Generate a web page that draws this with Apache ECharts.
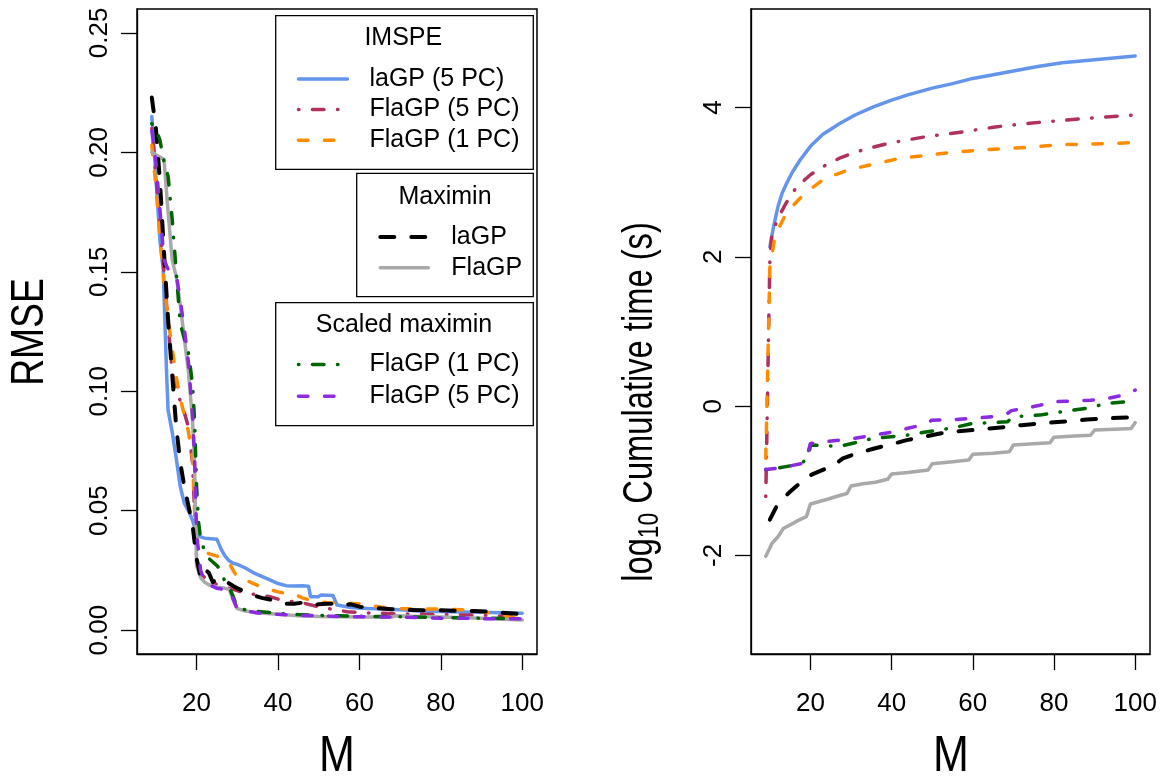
<!DOCTYPE html>
<html><head><meta charset="utf-8">
<script src="https://cdn.jsdelivr.net/npm/echarts@6/dist/echarts.min.js"></script>
<style>html,body{margin:0;padding:0;background:#fff}#c{width:1162px;height:778px}</style>
</head><body><div id="c"></div>
<script>
// ---------------- data ----------------
const M_TICKS = [20, 40, 60, 80, 100];
const RMSE_TICKS = [0, 0.05, 0.10, 0.15, 0.20, 0.25];
const TIME_TICKS = [-2, 0, 2, 4];

// Left panel: RMSE vs M
const rmse_imspe_laGP5 = [[9,0.215],[10,0.19],[11,0.163],[11.8,0.151],[12.2,0.13],[12.6,0.109],[13,0.092],[14,0.083],[15,0.072],[16,0.06],[17,0.053],[18,0.05],[19,0.046],[19.7,0.042],[20,0.040],[21,0.039],[22,0.0385],[25,0.038],[26,0.034],[27,0.031],[28,0.029],[29,0.028],[30,0.0275],[32,0.026],[34,0.024],[36,0.0225],[38,0.021],[40,0.0195],[42,0.0186],[44,0.0185],[46,0.0186],[47.5,0.0184],[48,0.014],[50,0.014],[50.5,0.0147],[53.5,0.0145],[54.5,0.0105],[58,0.0095],[62,0.009],[66,0.0088],[70,0.0085],[75,0.008],[80,0.0078],[85,0.0076],[90,0.0075],[95,0.0073],[100,0.0071]];
const rmse_imspe_FlaGP5 = [[9,0.21],[10,0.19],[11,0.17],[12,0.15],[13,0.128],[14,0.108],[15,0.1],[16,0.096],[17,0.091],[18,0.085],[19,0.07],[19.5,0.05],[20,0.03],[21,0.0235],[22,0.022],[23,0.0215],[25,0.019],[27,0.018],[28,0.0175],[30,0.0165],[32,0.0155],[35,0.0148],[38,0.014],[41,0.0125],[44,0.0118],[47,0.011],[50,0.0098],[54,0.0085],[57,0.0077],[62,0.0072],[70,0.0068],[80,0.0065],[90,0.0062],[100,0.0055]];
const rmse_imspe_FlaGP1 = [[9,0.203],[10,0.186],[11,0.165],[12,0.146],[13,0.13],[14,0.118],[15,0.106],[16,0.097],[17,0.09],[18,0.083],[19,0.072],[19.5,0.05],[20,0.038],[21,0.035],[22,0.033],[23,0.032],[25,0.031],[27,0.029],[28,0.028],[29,0.025],[30,0.022],[32,0.021],[34,0.0195],[36,0.018],[38,0.017],[40,0.016],[42,0.0153],[44,0.015],[46,0.0135],[48,0.0125],[50,0.012],[52,0.0115],[56,0.0112],[60,0.011],[62,0.0105],[66,0.0095],[70,0.009],[75,0.0088],[80,0.0088],[85,0.0085],[88,0.0083],[90,0.0078],[94,0.0065],[97,0.0055],[100,0.005]];
const rmse_maximin_laGP = [[9,0.223],[10,0.21],[11,0.188],[12,0.158],[13,0.13],[14,0.107],[15,0.085],[16,0.07],[17,0.06],[18,0.052],[19,0.044],[20,0.03],[21,0.022],[22,0.0255],[23,0.024],[24,0.02],[25,0.0215],[26,0.0215],[27,0.021],[28,0.0195],[29,0.0185],[30,0.0175],[32,0.016],[34,0.0145],[36,0.0135],[38,0.0128],[40,0.012],[42,0.011],[44,0.011],[46,0.0115],[48,0.0105],[50,0.0108],[52,0.011],[54,0.011],[56,0.0105],[58,0.0108],[60,0.0098],[64,0.0092],[68,0.0087],[72,0.0084],[76,0.0083],[80,0.0083],[84,0.0081],[88,0.008],[92,0.0077],[96,0.0072],[100,0.0067]];
const rmse_maximin_FlaGP = [[9,0.2],[10,0.199],[11,0.198],[12,0.197],[13,0.175],[14,0.155],[15,0.148],[16,0.136],[17,0.122],[18,0.108],[19,0.088],[19.5,0.07],[20,0.027],[21,0.022],[22,0.02],[23,0.019],[25,0.018],[27,0.0175],[28,0.017],[29,0.0125],[30,0.009],[32,0.008],[35,0.0073],[40,0.0066],[45,0.006],[50,0.0057],[60,0.0055],[68,0.0055],[69,0.006],[72,0.0058],[80,0.0055],[90,0.005],[100,0.0042]];
const rmse_scaled_FlaGP1 = [[9,0.212],[10,0.21],[11,0.205],[12,0.196],[13,0.19],[14,0.172],[15,0.15],[16,0.128],[17,0.122],[18,0.116],[19,0.103],[19.5,0.088],[20,0.06],[20.5,0.045],[21,0.038],[22,0.033],[23,0.03],[25,0.027],[26,0.025],[27,0.02],[28,0.018],[29,0.014],[30,0.0095],[32,0.0085],[35,0.0078],[40,0.007],[45,0.0065],[50,0.0062],[55,0.006],[60,0.0058],[70,0.0056],[80,0.0052],[90,0.005],[100,0.0048]];
const rmse_scaled_FlaGP5 = [[9,0.209],[10,0.196],[11,0.176],[12,0.155],[13,0.151],[14,0.15],[15,0.149],[16,0.138],[17,0.126],[18,0.112],[19,0.09],[19.5,0.072],[20,0.04],[20.5,0.033],[21,0.025],[22,0.02],[23,0.019],[25,0.0175],[27,0.017],[28,0.0168],[29,0.013],[30,0.0088],[32,0.008],[35,0.0072],[40,0.0066],[45,0.0062],[50,0.006],[55,0.0057],[60,0.0056],[65,0.0055],[70,0.0055],[75,0.0052],[80,0.005],[85,0.005],[90,0.0048],[95,0.0048],[100,0.0047]];

// Right panel: log10 cumulative time vs M
const time_imspe_laGP5 = [[10,2.13],[10.9,2.4],[12,2.67],[13,2.85],[14,2.97],[15.5,3.13],[17.5,3.3],[20,3.48],[23,3.64],[27,3.78],[31,3.9],[35.5,4.01],[40,4.1],[44,4.17],[50,4.26],[55,4.32],[60,4.39],[65,4.44],[70,4.49],[76,4.55],[82,4.6],[88,4.63],[94,4.66],[100,4.69]];
const time_imspe_FlaGP5 = [[9,-1.21],[10,1.95],[10.5,2.3],[12,2.52],[14,2.72],[16.5,2.93],[20,3.1],[23.5,3.22],[27.5,3.33],[31.5,3.41],[35.5,3.47],[40,3.53],[48.5,3.61],[57,3.67],[65.5,3.74],[74,3.79],[82.5,3.83],[91.5,3.87],[100,3.9]];
const time_imspe_FlaGP1 = [[9,-0.7],[10,1.85],[11.3,2.29],[14.2,2.6],[18.6,2.85],[23.5,3.05],[29.7,3.17],[36.3,3.25],[42,3.32],[48.6,3.36],[55,3.4],[61.7,3.43],[67.4,3.45],[74.8,3.47],[80.7,3.5],[88,3.51],[94,3.52],[100,3.53]];
const time_maximin_laGP = [[10,-1.52],[11.6,-1.35],[13,-1.25],[14.9,-1.15],[17,-1.05],[19,-0.95],[21,-0.9],[23.9,-0.835],[26,-0.78],[28,-0.7],[31,-0.64],[35.5,-0.57],[40,-0.51],[43.7,-0.455],[48,-0.41],[51.9,-0.366],[56,-0.34],[60,-0.32],[64,-0.3],[68.3,-0.277],[72,-0.255],[76.5,-0.23],[80,-0.215],[84.7,-0.2],[88,-0.18],[92.8,-0.165],[96,-0.155],[100,-0.15]];
const time_maximin_FlaGP = [[9,-2.01],[10,-1.9],[10.5,-1.84],[12,-1.75],[13.3,-1.64],[15,-1.59],[17,-1.53],[19,-1.48],[20,-1.31],[24,-1.25],[27,-1.2],[29,-1.17],[30,-1.07],[33,-1.04],[36,-1.02],[39,-0.98],[40,-0.91],[44,-0.89],[49,-0.855],[50,-0.77],[55,-0.745],[59,-0.72],[60,-0.645],[65,-0.63],[69,-0.61],[70,-0.52],[75,-0.505],[79,-0.49],[80,-0.415],[85,-0.4],[89,-0.39],[90,-0.32],[95,-0.31],[99,-0.3],[100,-0.22]];
const time_scaled_FlaGP1 = [[9,-0.85],[12,-0.83],[15,-0.8],[17.8,-0.77],[19.5,-0.68],[20,-0.52],[23,-0.53],[27.3,-0.536],[31,-0.49],[35.5,-0.43],[40,-0.41],[43.7,-0.39],[48,-0.35],[51.9,-0.32],[56,-0.28],[60,-0.23],[65,-0.22],[68.5,-0.21],[70,-0.14],[76.5,-0.12],[80,-0.09],[84.7,-0.054],[89,-0.02],[92.8,0.036],[98,0.058],[100,0.06]];
const time_scaled_FlaGP5 = [[9,-0.85],[12,-0.83],[15,-0.8],[17.8,-0.77],[19,-0.72],[19.5,-0.6],[20,-0.5],[23,-0.48],[27,-0.455],[31,-0.43],[35.5,-0.39],[40,-0.35],[43.7,-0.3],[47,-0.26],[48.6,-0.23],[49.8,-0.19],[55,-0.18],[60,-0.165],[65,-0.14],[68.5,-0.1],[69.5,-0.06],[73,-0.03],[76.5,0.013],[79.8,0.058],[85,0.07],[88.9,0.08],[93,0.1],[97,0.147],[100,0.214]];

// ---------------- styles ----------------
const FONT = '"Liberation Sans", Arial, Helvetica, sans-serif';
const DASHED = [9.5, 16.5];
const DOTDASH = [0.5, 13.5, 11.5, 13.5];
const LONGDASH = [14, 17];
const defs = [
  {name: 'IMSPE|laGP (5 PC)',    color: '#6495ED', type: 'solid',  width: 3.5, L: rmse_imspe_laGP5,   R: time_imspe_laGP5},
  {name: 'IMSPE|FlaGP (5 PC)',   color: '#B03060', type: DOTDASH,  width: 3.5, L: rmse_imspe_FlaGP5,  R: time_imspe_FlaGP5},
  {name: 'IMSPE|FlaGP (1 PC)',   color: '#FF8C00', type: DASHED,   width: 3.5, L: rmse_imspe_FlaGP1,  R: time_imspe_FlaGP1},
  {name: 'Maximin|FlaGP',        color: '#A9A9A9', type: 'solid',  width: 3.5, L: rmse_maximin_FlaGP, R: time_maximin_FlaGP},
  {name: 'Maximin|laGP',         color: '#000000', type: LONGDASH, width: 4,   L: rmse_maximin_laGP,  R: time_maximin_laGP},
  {name: 'Scaled|FlaGP (1 PC)',  color: '#006400', type: DOTDASH,  width: 3.5, L: rmse_scaled_FlaGP1, R: time_scaled_FlaGP1},
  {name: 'Scaled|FlaGP (5 PC)',  color: '#8A2BE2', type: DASHED,   width: 3.5, L: rmse_scaled_FlaGP5, R: time_scaled_FlaGP5}
];
const styleOf = {};
defs.forEach(d => styleOf[d.name] = {color: d.color, type: d.type, width: d.width, cap: 'round'});

const X_MIN = 5.36, X_MAX = 103.64;
const Y_MIN = [-0.01, -3.32], Y_MAX = [0.26, 5.32];
const TICK_LEN = 16;
const GRIDS = [
  {left: 137, top: 9, width: 400, height: 645},
  {left: 751, top: 9, width: 399, height: 645}
];
// thin strips just below each panel, carrying the x-axis tick marks
const STRIPS = GRIDS.map(g => ({left: g.left, top: g.top + g.height, width: g.width, height: TICK_LEN}));

const series = [];
defs.forEach(d => {
  [['L', 0], ['R', 1]].forEach(([k, i]) => {
    series.push({
      type: 'line', name: d.name, xAxisIndex: i, yAxisIndex: i,
      data: d[k], symbol: 'none', showSymbol: false, animation: false, silent: true,
      lineStyle: {color: d.color, type: d.type, width: d.width, cap: 'round', join: 'round'},
      itemStyle: {color: d.color}
    });
  });
});

const AXLINE = {show: true, onZero: false, lineStyle: {color: '#000', width: 1.3}};
function mkXAxis(gi) {
  return {
    type: 'value', gridIndex: gi, min: X_MIN, max: X_MAX, position: 'bottom',
    axisLine: AXLINE, splitLine: {show: false},
    axisTick: {show: false},
    axisLabel: {customValues: M_TICKS, fontSize: 26, fontFamily: FONT, color: '#000', margin: 37}
  };
}
function mkStripXAxis(gi) {
  return {
    type: 'value', gridIndex: gi, min: X_MIN, max: X_MAX, position: 'bottom',
    axisLine: {show: false, onZero: true}, splitLine: {show: false},
    axisTick: {show: true, inside: false, length: TICK_LEN, customValues: M_TICKS, lineStyle: {color: '#000', width: 1.3}},
    axisLabel: {show: false}
  };
}
function mkStripYAxis(gi) {
  return {type: 'value', gridIndex: gi, min: 0, max: 1, inverse: true, show: false,
          axisLine: {show: false}, axisTick: {show: false}, axisLabel: {show: false}, splitLine: {show: false}};
}

const legendCommon = {
  orient: 'vertical', selectedMode: false, itemHeight: 14, z: 60,
  formatter: n => n.split('|')[1],
  textStyle: {fontSize: 25, fontFamily: FONT, color: '#000', lineHeight: 25, padding: [0, 0, 0, 17]},
  itemStyle: {opacity: 0}, padding: 0
};
function legendData(names) {
  return names.map(n => ({name: n, lineStyle: styleOf[n], itemStyle: {opacity: 0}}));
}
const titleStyle = {fontFamily: FONT, fill: '#000', align: 'center', verticalAlign: 'middle'};

const graphics = [
  {type: 'rect', shape: {x: 275.7, y: 15.7, width: 257.6, height: 153.6}, style: {fill: '#fff', stroke: '#000', lineWidth: 1.3}, z: 50},
  {type: 'rect', shape: {x: 356.7, y: 173.3, width: 176.6, height: 123.4}, style: {fill: '#fff', stroke: '#000', lineWidth: 1.3}, z: 50},
  {type: 'rect', shape: {x: 275.7, y: 302.7, width: 257.6, height: 123}, style: {fill: '#fff', stroke: '#000', lineWidth: 1.3}, z: 50},
  {type: 'text', x: 403.3, y: 38.3, z: 51, style: {text: 'IMSPE', fontSize: 25, fontFamily: FONT, fill: '#000', align: 'center', verticalAlign: 'middle'}},
  {type: 'text', x: 445, y: 196.7, z: 51, style: {text: 'Maximin', fontSize: 25, fontFamily: FONT, fill: '#000', align: 'center', verticalAlign: 'middle'}},
  {type: 'text', x: 404, y: 325, z: 51, style: {text: 'Scaled maximin', fontSize: 25, fontFamily: FONT, fill: '#000', align: 'center', verticalAlign: 'middle'}},
  // axis titles
  {type: 'text', x: 337, y: 757, scaleX: 0.86, z: 51, style: Object.assign({text: 'M', fontSize: 50}, titleStyle)},
  {type: 'text', x: 951, y: 757, scaleX: 0.86, z: 51, style: Object.assign({text: 'M', fontSize: 50}, titleStyle)},
  {type: 'text', x: 30, y: 332, rotation: Math.PI / 2, scaleX: 0.81, z: 51, style: Object.assign({text: 'RMSE', fontSize: 46}, titleStyle)},
  {type: 'text', x: 640, y: 402, rotation: Math.PI / 2, scaleX: 0.76, z: 51, style: Object.assign({
    text: '{n|log}{s|10}{n| Cumulative time (s)}', fontSize: 43,
    rich: {n: {fontSize: 43, fontFamily: FONT, fill: '#000', lineHeight: 50},
           s: {fontSize: 30, fontFamily: FONT, fill: '#000', lineHeight: 30, verticalAlign: 'bottom'}}}, titleStyle)}
];

const option = {
  backgroundColor: '#fff',
  animation: false,
  grid: GRIDS.map(g => Object.assign({show: true, borderColor: '#000', borderWidth: 1.5, backgroundColor: 'transparent'}, g))
        .concat(STRIPS.map(s => Object.assign({show: false}, s))),
  xAxis: [mkXAxis(0), mkXAxis(1), mkStripXAxis(2), mkStripXAxis(3)],
  yAxis: [
    {
      type: 'value', gridIndex: 0, min: Y_MIN[0], max: Y_MAX[0], position: 'left',
      axisLine: AXLINE, splitLine: {show: false},
      axisTick: {show: true, length: TICK_LEN, customValues: RMSE_TICKS, lineStyle: {color: '#000', width: 1.3}},
      axisLabel: {customValues: RMSE_TICKS, rotate: 90, fontSize: 26, fontFamily: FONT, color: '#000', margin: 24,
                  formatter: v => v.toFixed(2)}
    },
    {
      type: 'value', gridIndex: 1, min: Y_MIN[1], max: Y_MAX[1], position: 'left',
      axisLine: AXLINE, splitLine: {show: false},
      axisTick: {show: true, length: TICK_LEN, customValues: TIME_TICKS, lineStyle: {color: '#000', width: 1.3}},
      axisLabel: {customValues: TIME_TICKS, rotate: 90, fontSize: 26, fontFamily: FONT, color: '#000', margin: 24,
                  formatter: v => String(v)}
    },
    mkStripYAxis(2), mkStripYAxis(3)
  ],
  legend: [
    Object.assign({}, legendCommon, {left: 296.7, top: 66.5, itemWidth: 49, itemGap: 5.6,
      data: legendData(['IMSPE|laGP (5 PC)', 'IMSPE|FlaGP (5 PC)', 'IMSPE|FlaGP (1 PC)'])}),
    Object.assign({}, legendCommon, {left: 378.3, top: 224.5, itemWidth: 48, itemGap: 5.7,
      textStyle: Object.assign({}, legendCommon.textStyle, {padding: [0, 0, 0, 18]}),
      data: legendData(['Maximin|laGP', 'Maximin|FlaGP'])}),
    Object.assign({}, legendCommon, {left: 296.7, top: 352, itemWidth: 49, itemGap: 6.7,
      data: legendData(['Scaled|FlaGP (1 PC)', 'Scaled|FlaGP (5 PC)'])})
  ],
  graphic: graphics,
  series: series
};

const chart = echarts.init(document.getElementById('c'), null, {renderer: 'canvas'});
chart.setOption(option);
</script>
</body></html>
